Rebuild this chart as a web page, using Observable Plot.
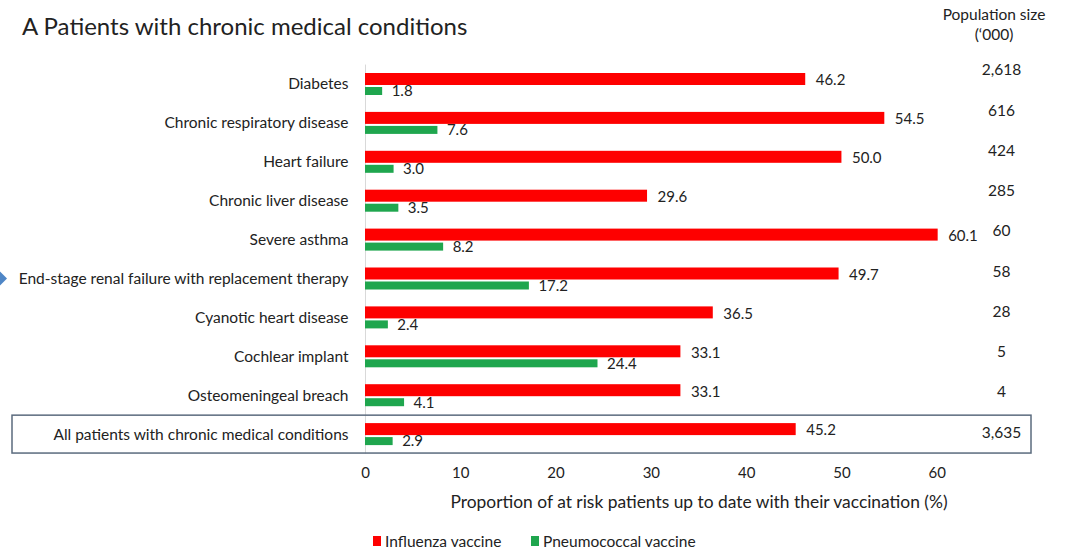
<!DOCTYPE html>
<html><head><meta charset="utf-8">
<script src="https://cdn.jsdelivr.net/npm/d3@7"></script>
<script src="https://cdn.jsdelivr.net/npm/@observablehq/plot@0.6"></script>
<style>
body{margin:0;background:#fff;font-family:Lato, "Open Sans", sans-serif;color:#222;}
#wrap{position:relative;width:1073px;height:550px;overflow:hidden;background:#fff}
#head{position:relative;height:55px}
#title{position:absolute;left:22px;top:11px;font-size:24px;line-height:30px;color:#222}
#pop{position:absolute;left:934px;width:120px;top:4px;text-align:center;font-size:15.5px;line-height:20px;color:#222}
#chart{height:465px}
#chart svg{display:block}
#legend{position:relative;height:30px;font-size:15.5px;color:#222}
.lg{position:absolute;top:12px;display:flex;align-items:center;gap:4px;line-height:18px}
.sw{display:inline-block;width:8px;height:10px}
</style></head>
<body>
<div id="wrap">
  <div id="head">
    <div id="title">A Patients with chronic medical conditions</div>
    <div id="pop">Population size<br>(‘000)</div>
  </div>
  <div id="chart"></div>
  <div id="legend"></div>
</div>
<script>
const categories = [
  "Diabetes",
  "Chronic respiratory disease",
  "Heart failure",
  "Chronic liver disease",
  "Severe asthma",
  "End-stage renal failure with replacement therapy",
  "Cyanotic heart disease",
  "Cochlear implant",
  "Osteomeningeal breach",
  "All patients with chronic medical conditions"
];
const influenza = [46.2, 54.5, 50.0, 29.6, 60.1, 49.7, 36.5, 33.1, 33.1, 45.2];
const pneumococcal = [1.8, 7.6, 3.0, 3.5, 8.2, 17.2, 2.4, 24.4, 4.1, 2.9];
const populationSize = ["2,618", "616", "424", "285", "60", "58", "28", "5", "4", "3,635"];
const xTicks = [0, 10, 20, 30, 40, 50, 60];
const seriesNames = ["Influenza vaccine", "Pneumococcal vaccine"];
const seriesColors = ["#fe0000", "#1fa64e"];
const xLabel = "Proportion of at risk patients up to date with their vaccination (%)";

const rows = categories.map((c, i) => ({
  category: c, influenza: influenza[i], pneumococcal: pneumococcal[i], pop: populationSize[i]
}));
const lastCat = categories[categories.length - 1];

// population column is laid out on its own, slightly wider row pitch
const popMarks = rows.map((r, i) =>
  Plot.text([r], {y: "category", frameAnchor: "right", dx: -31, dy: -14 + 1.35 * i,
    text: "pop", textAnchor: "middle", fontSize: 15.5, fill: "#222"}));

const chart = Plot.plot({
  width: 1073,
  height: 465,
  marginLeft: 365,
  marginRight: 41,
  marginTop: 9.55,
  marginBottom: 66.45,
  style: {fontFamily: "Lato, 'Open Sans', sans-serif", color: "#222", background: "#fff"},
  x: {domain: [0, 70]},
  y: {domain: categories, padding: 0, round: false},
  marks: [
    Plot.ruleX([0], {stroke: "#d9d9d9"}),
    Plot.barX(rows, {y: "category", x: "influenza", fill: seriesColors[0], insetTop: 8.45, insetBottom: 18.45}),
    Plot.barX(rows, {y: "category", x: "pneumococcal", fill: seriesColors[1], insetTop: 22.45, insetBottom: 8.45}),
    Plot.text(rows, {y: "category", x: "influenza", text: d => d.influenza.toFixed(1), textAnchor: "start", dx: 10, dy: -4, fontSize: 15, fill: "#222"}),
    Plot.text(rows, {y: "category", x: "pneumococcal", text: d => d.pneumococcal.toFixed(1), textAnchor: "start", dx: 9, dy: 7, fontSize: 15, fill: "#222"}),
    ...popMarks,
    Plot.axisY({tickSize: 0, tickPadding: 17, fontSize: 15.5, label: null}),
    Plot.axisX({ticks: xTicks, tickSize: 0, tickPadding: 13, fontSize: 15, label: null}),
    Plot.text([xLabel], {text: d => d, frameAnchor: "bottom", lineAnchor: "middle", dy: 48.5, fontSize: 17.4, fill: "#222"})
  ]
});

// box around the summary row and marker arrow, positioned from the y scale
const ys = chart.scale("y");
const svg = d3.select(chart);
const yAll = ys.apply(lastCat);
svg.append("rect")
  .attr("x", 12).attr("y", yAll + 0.5)
  .attr("width", 1019).attr("height", ys.bandwidth - 1)
  .attr("fill", "none").attr("stroke", "#5b6b7e").attr("stroke-width", 1.5);
const yArrow = ys.apply(categories[5]) + ys.bandwidth / 2;
svg.append("path")
  .attr("d", `M-7,${yArrow}L0,${yArrow - 7}L7,${yArrow}L0,${yArrow + 7}Z`)
  .attr("fill", "#4f86c6");

document.getElementById("chart").appendChild(chart);

const legend = document.getElementById("legend");
const lgPos = [373, 531];
seriesNames.forEach((n, i) => {
  const d = document.createElement("div");
  d.className = "lg";
  d.style.left = lgPos[i] + "px";
  d.innerHTML = `<span class="sw" style="background:${seriesColors[i]}"></span><span>${n}</span>`;
  legend.appendChild(d);
});
</script>
</body></html>
